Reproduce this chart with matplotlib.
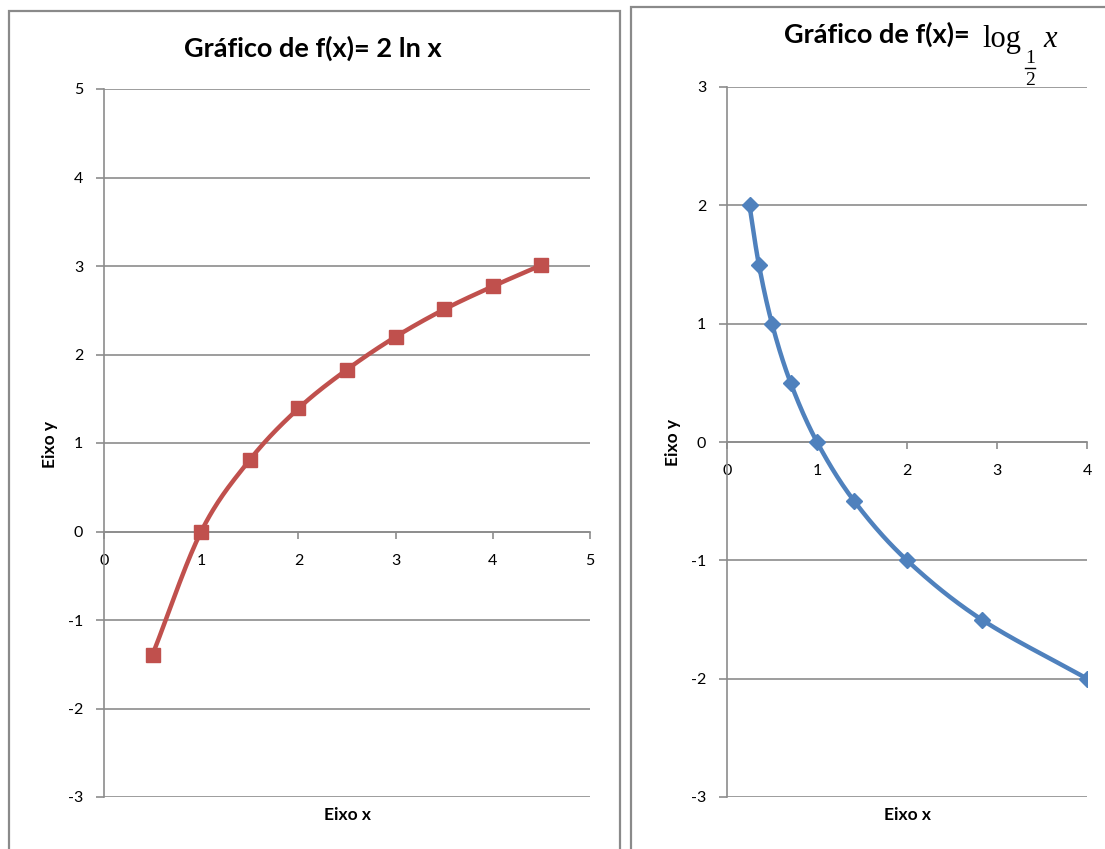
import numpy as np
import matplotlib
matplotlib.use("Agg")
import matplotlib.pyplot as plt
from matplotlib.patches import Rectangle
from matplotlib.lines import Line2D

# f(x) = 2 ln x
x_ln = [0.5, 1.0, 1.5, 2.0, 2.5, 3.0, 3.5, 4.0, 4.5]
y_ln = [-1.39, 0.0, 0.81, 1.39, 1.83, 2.20, 2.51, 2.77, 3.01]

# f(x) = log_{1/2} x
x_log = [0.25, 0.354, 0.5, 0.707, 1.0, 1.414, 2.0, 2.828, 4.0]
y_log = [2.0, 1.5, 1.0, 0.5, 0.0, -0.5, -1.0, -1.5, -2.0]

left_xticks = [0, 1, 2, 3, 4, 5]
left_yticks = [-3, -2, -1, 0, 1, 2, 3, 4, 5]
right_xticks = [0, 1, 2, 3, 4]
right_yticks = [-3, -2, -1, 0, 1, 2, 3]

RED = "#C0504D"
BLUE = "#4F81BD"
GRID = "#8C8C8C"
SERIF = "Liberation Serif"

plt.rcParams["font.family"] = ["Lato", "DejaVu Sans"]
plt.rcParams["axes.unicode_minus"] = False

W, H = 1105, 849


def fx(px):
    return px / W


def fy(py):
    return 1 - py / H


def smooth(xs, ys, n=30):
    # Catmull-Rom curve through the points, like a smoothed spreadsheet line
    p = np.column_stack([xs, ys]).astype(float)
    p = np.vstack([2 * p[0] - p[1], p, 2 * p[-1] - p[-2]])
    out = []
    t = np.linspace(0, 1, n)[:, None]
    for i in range(1, len(p) - 2):
        p0, p1, p2, p3 = p[i - 1], p[i], p[i + 1], p[i + 2]
        seg = 0.5 * ((2 * p1) + (-p0 + p2) * t
                     + (2 * p0 - 5 * p1 + 4 * p2 - p3) * t ** 2
                     + (-p0 + 3 * p1 - 3 * p2 + p3) * t ** 3)
        out.append(seg)
    out = np.vstack(out)
    return out[:, 0], out[:, 1]


def style_axes(ax, xticks, yticks):
    ax.set_xlim(xticks[0], xticks[-1])
    ax.set_ylim(yticks[0], yticks[-1])
    ax.set_xticks(xticks)
    ax.set_yticks(yticks)
    for s in ["top", "right"]:
        ax.spines[s].set_visible(False)
    ax.spines["bottom"].set_position(("data", 0))
    for s in ["left", "bottom"]:
        ax.spines[s].set_color(GRID)
        ax.spines[s].set_linewidth(1.2)
    ax.yaxis.grid(True, color=GRID, linewidth=1.2)
    ax.set_axisbelow(True)
    ax.tick_params(axis="y", direction="out", length=6, width=1.2,
                   color=GRID, labelsize=11.5, pad=9)
    ax.tick_params(axis="x", direction="out", length=5, width=1.2,
                   color=GRID, labelsize=11.5, pad=11)


fig = plt.figure(figsize=(W / 100, H / 100), dpi=100)

# chart frames
fig.add_artist(Rectangle((fx(9), -0.01), 611 / W, fy(11) + 0.01,
                         transform=fig.transFigure, fill=False,
                         edgecolor="#8A8A8A", linewidth=1.6))
fig.add_artist(Rectangle((fx(631), -0.01), 0.5, fy(7) + 0.01,
                         transform=fig.transFigure, fill=False,
                         edgecolor="#8A8A8A", linewidth=1.6))

# left chart
ax1 = fig.add_axes([fx(104), 52 / H, 486 / W, 708 / H])
style_axes(ax1, left_xticks, left_yticks)
sx, sy = smooth(x_ln, y_ln)
ax1.plot(sx, sy, color=RED, linewidth=3.2, solid_capstyle="round", zorder=3)
ax1.plot(x_ln, y_ln, linestyle="none", marker="s", markersize=10,
         color=RED, zorder=4)
fig.text(fx(313), fy(57), "Gráfico de f(x)= 2 ln x",
         ha="center", va="baseline", fontsize=19.5, fontweight="bold")
fig.text(fx(347), fy(815), "Eixo x", ha="center", va="center",
         fontsize=12.5, fontweight="bold")
fig.text(fx(50), fy(444), "Eixo y", ha="center", va="center",
         fontsize=12.5, fontweight="bold", rotation=90)

# right chart
ax2 = fig.add_axes([fx(727), 52 / H, 360 / W, 710 / H])
style_axes(ax2, right_xticks, right_yticks)
sx, sy = smooth(x_log, y_log)
ax2.plot(sx, sy, color=BLUE, linewidth=3.2, solid_capstyle="round", zorder=3)
ax2.plot(x_log, y_log, linestyle="none", marker="D", markersize=8,
         color=BLUE, zorder=4)
fig.text(fx(970), fy(43), "Gráfico de f(x)=",
         ha="right", va="baseline", fontsize=19.5, fontweight="bold")
# log base one half, written out as in an equation editor
fig.text(fx(982), fy(47), "log", ha="left", va="baseline",
         fontsize=22, family=SERIF)
fig.text(fx(1030), fy(63), "1", ha="center", va="baseline",
         fontsize=14, family=SERIF)
fig.add_artist(Line2D([fx(1025), fx(1035)], [fy(68), fy(68)],
                      transform=fig.transFigure, color="black", linewidth=1.0))
fig.text(fx(1030), fy(85), "2", ha="center", va="baseline",
         fontsize=14, family=SERIF)
fig.text(fx(1043), fy(47), "x", ha="left", va="baseline",
         fontsize=22, family=SERIF, style="italic")
fig.text(fx(907), fy(815), "Eixo x", ha="center", va="center",
         fontsize=12.5, fontweight="bold")
fig.text(fx(673), fy(442), "Eixo y", ha="center", va="center",
         fontsize=12.5, fontweight="bold", rotation=90)

fig.savefig("out.png", dpi=100)
